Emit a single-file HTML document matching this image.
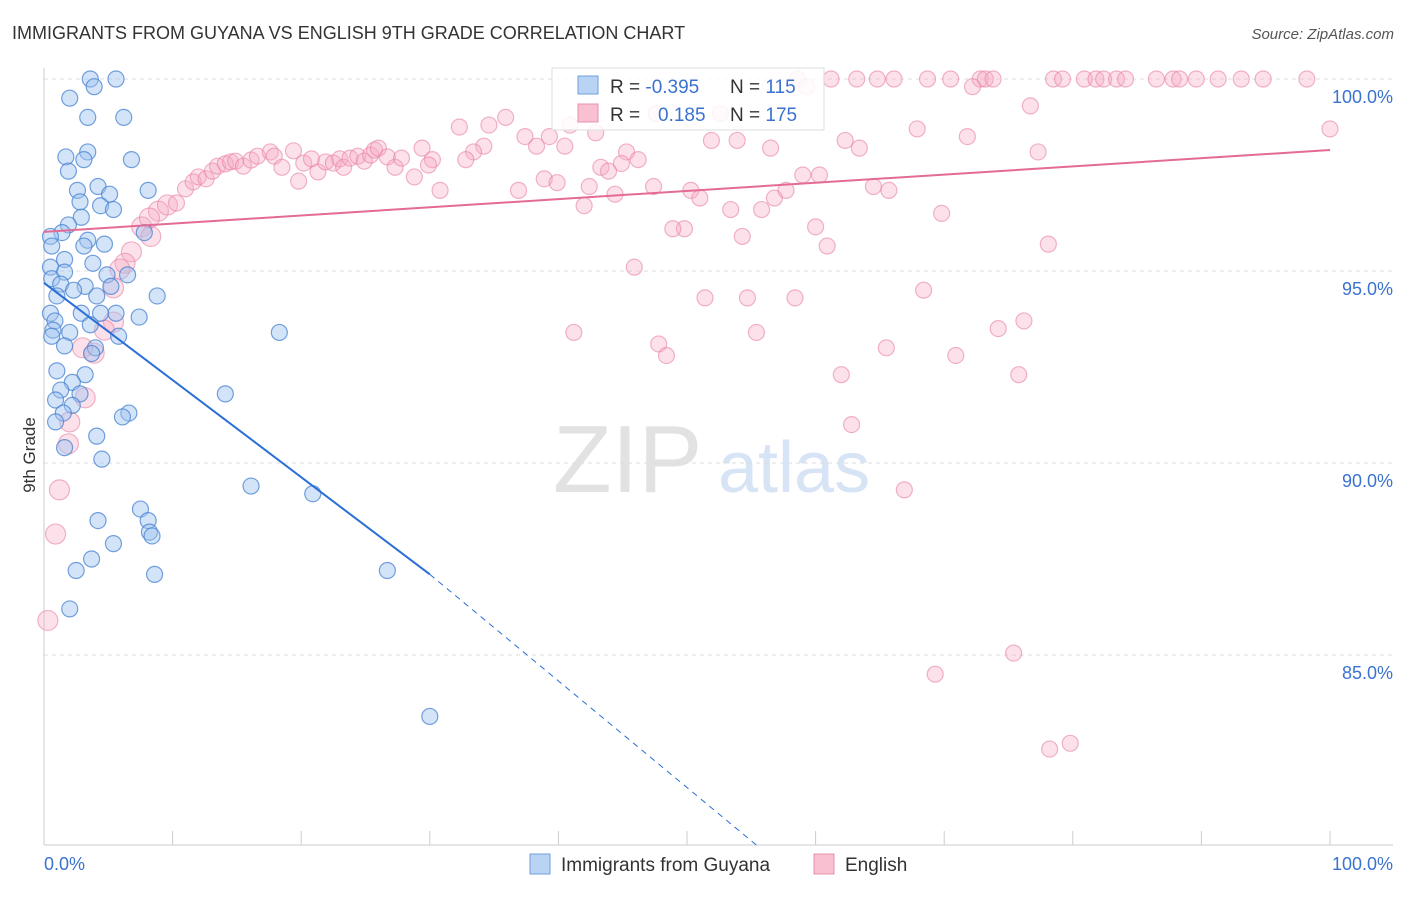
<!DOCTYPE html>
<html><head><meta charset="utf-8"><style>
body{margin:0;background:#fff;font-family:"Liberation Sans",sans-serif}
svg text{font-family:"Liberation Sans",sans-serif}
</style></head><body>
<svg id="c" width="1406" height="892" xmlns="http://www.w3.org/2000/svg">
<text x="12" y="39" font-size="18" fill="#333">IMMIGRANTS FROM GUYANA VS ENGLISH 9TH GRADE CORRELATION CHART</text>
<text x="1394" y="39" font-size="15" fill="#555" text-anchor="end" font-style="italic">Source: ZipAtlas.com</text>
<text x="35" y="455" font-size="17" fill="#333" transform="rotate(-90 35 455)" text-anchor="middle">9th Grade</text>
<text x="553" y="492" font-size="96" fill="#e2e2e2" font-family="Liberation Serif">ZIP</text>
<text x="718" y="492" font-size="72" fill="#d6e4f5">atlas</text>
<g id="grid"></g><g id="pts"></g><g id="lines"></g>
<g>
<rect x="552" y="68" width="272" height="62" fill="#fff" fill-opacity="0.85" stroke="#ddd"/>
<rect x="578" y="76" width="20" height="18" fill="#b9d3f5" stroke="#6fa0e0"/>
<rect x="578" y="104" width="20" height="18" fill="#f8c0d0" stroke="#e890aa"/>
<text x="610" y="93" font-size="19" fill="#333">R = <tspan fill="#3b72d0">-0.395</tspan></text>
<text x="730" y="93" font-size="19" fill="#333">N = <tspan fill="#3b72d0"> 115</tspan></text>
<text x="610" y="121" font-size="19" fill="#333">R = <tspan fill="#3b72d0" x="658">0.185</tspan></text>
<text x="730" y="121" font-size="19" fill="#333">N = <tspan fill="#3b72d0">175</tspan></text>
</g>
<g>
<rect x="530" y="854" width="20" height="20" fill="#b9d3f5" stroke="#6fa0e0"/>
<text x="561" y="871" font-size="19" fill="#333">Immigrants from Guyana</text>
<rect x="814" y="854" width="20" height="20" fill="#f8c0d0" stroke="#e890aa"/>
<text x="845" y="871" font-size="19" fill="#333">English</text>
</g>
<text x="44" y="870" font-size="18" fill="#3b72d0">0.0%</text>
<text x="1393" y="870" font-size="18" fill="#3b72d0" text-anchor="end">100.0%</text>
</svg>
<script>
const yTicks=[100,95,90,85];
const blueX=[3.6,5.6,3.9,2.0,3.4,6.2,3.4,1.7,6.8,3.1,1.9,2.6,4.2,5.1,8.1,2.8,4.4,5.4,2.9,1.9,1.4,7.8,0.5,3.4,4.7,3.1,0.6,1.6,3.8,0.5,1.6,4.9,6.5,0.6,1.3,3.2,5.2,2.3,1.0,4.1,8.8,0.5,2.9,4.4,5.6,7.4,0.85,3.6,0.7,2.0,5.8,18.3,0.6,1.6,4.0,3.7,1.0,3.2,2.2,1.3,2.8,14.1,0.9,2.2,1.5,6.6,6.1,0.9,4.1,1.6,4.5,16.1,20.9,7.5,8.1,4.2,8.2,8.4,5.4,3.7,26.7,2.5,8.6,2.0,30.0];
const blueY=[100,100,99.8,99.5,99.0,99.0,98.1,97.97,97.9,97.9,97.6,97.1,97.2,97.0,97.1,96.8,96.7,96.6,96.4,96.2,96.0,96.0,95.9,95.8,95.7,95.65,95.65,95.3,95.2,95.1,94.97,94.9,94.9,94.8,94.66,94.6,94.6,94.5,94.35,94.35,94.35,93.9,93.9,93.9,93.9,93.8,93.7,93.6,93.46,93.4,93.3,93.4,93.3,93.05,93.0,92.85,92.4,92.3,92.1,91.9,91.8,91.8,91.64,91.5,91.3,91.3,91.2,91.07,90.7,90.4,90.1,89.4,89.2,88.8,88.5,88.5,88.2,88.1,87.9,87.5,87.2,87.2,87.1,86.2,83.4];
const pinkX=[58.6,61.2,63.2,64.8,66.1,68.7,70.5,72.8,73.2,73.8,78.5,79.2,80.9,81.8,82.4,83.4,84.1,86.5,87.8,88.3,89.6,91.3,93.1,94.8,98.2,
59.3,72.2,76.7,100,67.9,71.8,63.4,77.3,62.3,56.5,51.9,53.9,52.6,47.6,42.9,40.9,39.3,37.4,35.9,34.6,32.3,34.2,33.4,32.8,29.4,30.2,40.5,38.3,45.3,46.2,44.9,43.3,43.9,42.4,42.0,38.9,39.9,36.9,30.8,47.4,50.3,51.0,44.4,53.4,55.8,56.8,57.7,59.0,60.3,64.5,65.7,69.8,60.0,49.8,48.9,54.3,60.9,78.1,45.9,51.4,54.7,58.4,68.4,41.2,55.4,74.2,76.2,47.8,48.4,65.5,70.9,62.0,75.8,62.8,66.9,75.4,69.3,78.2,79.8,
7.6,8.9,9.6,10.3,11.0,11.6,12.0,12.6,13.1,13.5,14.1,14.5,14.9,15.5,16.1,16.6,17.6,17.9,18.5,19.4,19.8,20.2,20.8,21.3,21.9,22.5,23.0,23.3,23.8,24.4,24.9,25.4,25.7,26.0,26.7,27.3,27.8,28.8,29.9,8.2,8.3,6.8,6.3,5.9,5.4,5.4,4.7,3.9,3.0,3.2,2.0,1.9,1.2,0.9,0.3];
const pinkY=[100,100,100,100,100,100,100,100,100,100,100,100,100,100,100,100,100,100,100,100,100,100,100,100,100,
99.8,99.8,99.3,98.7,98.7,98.5,98.2,98.1,98.4,98.2,98.4,98.4,99.1,99.1,98.6,98.8,98.5,98.5,99.0,98.8,98.75,98.25,98.1,97.9,98.2,97.9,98.25,98.25,98.1,97.9,97.8,97.7,97.6,97.2,96.7,97.4,97.3,97.1,97.1,97.2,97.1,96.9,97.0,96.6,96.6,96.9,97.1,97.5,97.5,97.2,97.1,96.5,96.15,96.1,96.1,95.9,95.65,95.7,95.1,94.3,94.3,94.3,94.5,93.4,93.4,93.5,93.7,93.1,92.8,93.0,92.8,92.3,92.3,91.0,89.3,85.05,84.5,82.55,82.7,
96.15,96.56,96.72,96.77,97.14,97.32,97.45,97.4,97.6,97.73,97.79,97.84,97.86,97.73,97.89,97.99,98.1,97.99,97.7,98.13,97.34,97.81,97.92,97.58,97.84,97.81,97.92,97.7,97.94,97.99,97.86,98.02,98.15,98.2,97.97,97.7,97.94,97.45,97.76,96.38,95.9,95.5,95.2,95.05,94.56,93.67,93.46,92.86,93.0,91.7,91.07,90.5,89.3,88.15,85.9];
const blueTrend=[[0,94.69],[30,87.1],[55.4,80.05]];
const pinkTrend=[[0,96.02],[100,98.15]];
const NS='http://www.w3.org/2000/svg';
const X=v=>44+v*12.86, Y=v=>79+(100-v)*38.4;
function mk(t,a,p){const e=document.createElementNS(NS,t);for(const k in a)e.setAttribute(k,a[k]);p.appendChild(e);return e;}
const grid=document.getElementById('grid'),pts=document.getElementById('pts'),lines=document.getElementById('lines');
yTicks.forEach(t=>{
 const l=mk('line',{x1:44,x2:1393,y1:Y(t),y2:Y(t),stroke:'#ddd','stroke-dasharray':'4,4'},grid);
 
 
 const tx=mk('text',{x:1393,y:Y(t)+24,'font-size':18,fill:'#3b72d0','text-anchor':'end'},grid);
 tx.textContent=t.toFixed(1)+'%';
 
 
});
mk('line',{x1:44,x2:44,y1:68,y2:845,stroke:'#ccc'},grid);
mk('line',{x1:44,x2:1393,y1:845,y2:845,stroke:'#ccc'},grid);
for(let i=0;i<=10;i++){const x=X(i*10);mk('line',{x1:x,x2:x,y1:831,y2:845,stroke:'#ccc'},grid);}
pinkX.forEach((v,i)=>{
 const big=v<10;
 const c=mk('circle',{cx:X(v),cy:Y(pinkY[i]),r:big?10:8,fill:'rgba(246,170,195,0.35)',stroke:'rgba(232,130,165,0.6)','stroke-width':1.2},pts);
 
 
});
blueX.forEach((v,i)=>{
 const c=mk('circle',{cx:X(v),cy:Y(blueY[i]),r:8,fill:'rgba(160,195,240,0.45)',stroke:'rgba(70,130,210,0.75)','stroke-width':1.2},pts);
 
 
});
let l=mk('line',{x1:X(blueTrend[0][0]),y1:Y(blueTrend[0][1]),x2:X(blueTrend[1][0]),y2:Y(blueTrend[1][1]),stroke:'#2a6fd6','stroke-width':2},lines);


l=mk('line',{x1:X(blueTrend[1][0]),y1:Y(blueTrend[1][1]),x2:X(blueTrend[2][0]),y2:Y(blueTrend[2][1]),stroke:'#2a6fd6','stroke-width':1,'stroke-dasharray':'6,5'},lines);


l=mk('line',{x1:X(pinkTrend[0][0]),y1:Y(pinkTrend[0][1]),x2:X(pinkTrend[1][0]),y2:Y(pinkTrend[1][1]),stroke:'#e36b96','stroke-width':2},lines);


</script>
</body></html>
